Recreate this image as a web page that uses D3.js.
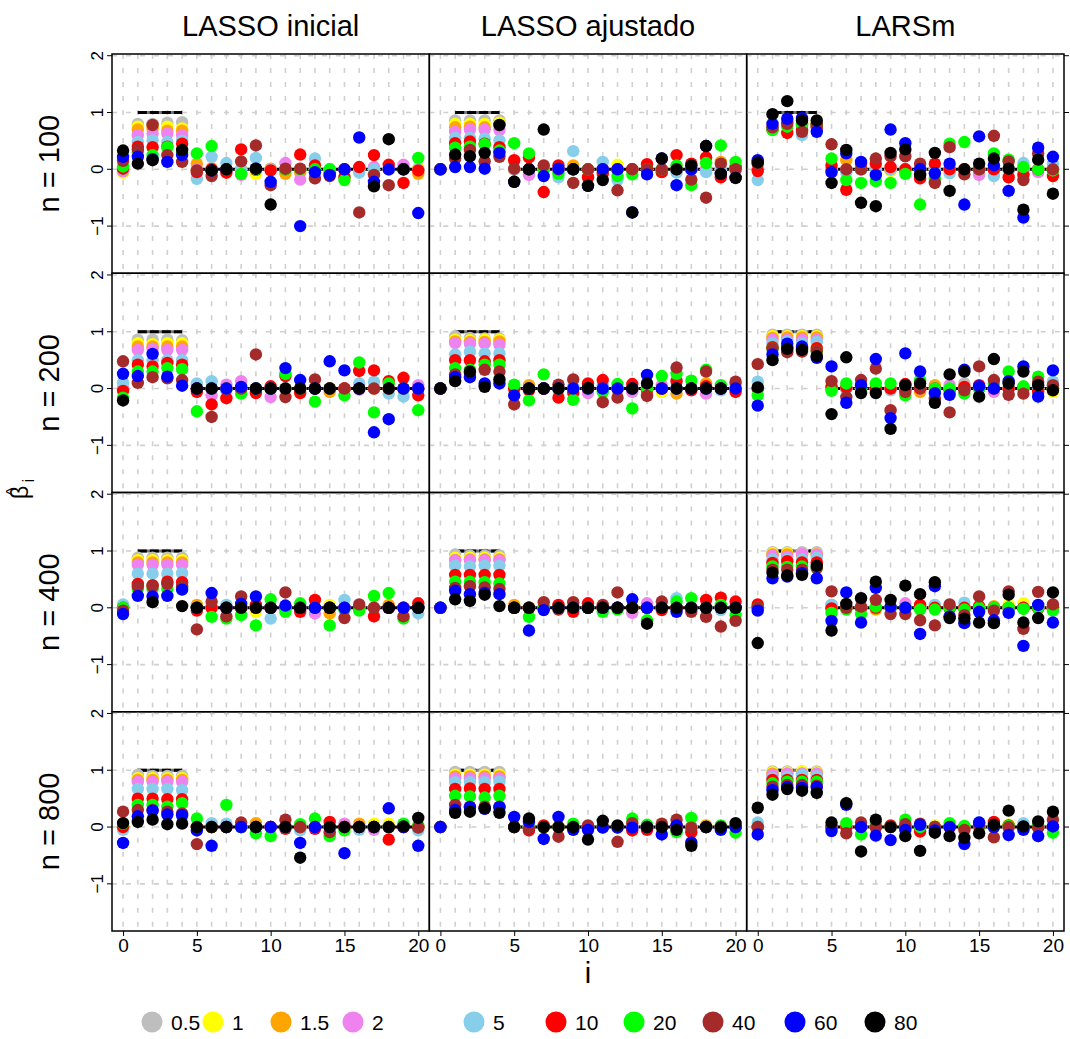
<!DOCTYPE html>
<html>
<head>
<meta charset="utf-8">
<script src="https://d3js.org/d3.v7.min.js"></script>
<style>
  body { margin: 0; background: #fff; }
  text { font-family: "Liberation Sans", Arial, sans-serif; fill: #000; }
</style>
</head>
<body>
<div id="chart"></div>
<script>
'use strict';

/* ---- data ---- */
var methods = ['LASSO inicial', 'LASSO ajustado', 'LARSm'];
var sizes = [100, 200, 400, 800];
var levels = ['0.5', '1', '1.5', '2', '5', '10', '20', '40', '60', '80'];
var levelColors = ['#bebebe', '#ffff00', '#ffa500', '#ee82ee', '#87ceeb',
                   '#ff0000', '#00ff00', '#a52a2a', '#0000ff', '#000000'];
var coefIndex = d3.range(0, 21);
var trueBeta = [null, 1, 1, 1, 1, 0, 0, 0, 0, 0, 0, 0, 0, 0, 0, 0, 0, 0, 0, 0, 0];
var xTicks = [0, 5, 10, 15, 20];
var yTicks = [-1, 0, 1, 2];

// one row per level (0.5 ... 80), one value per coefficient i = 0..20
var ini100 = [
  [-0.05,0.80,0.80,0.82,0.83,0,0,0,0,0,0,0,0,0,0,0,0,0,0,0,0],
  [-0.06,0.75,0.76,0.75,0.72,0,0,0,0,-0.08,0,0,0,0,0,0,0,0,0,0,0.03],
  [-0.03,0.70,0.71,0.68,0.68,0.10,0.02,0,0,0,0.01,-0.08,-0.05,0,0,0,0,0,0,0,-0.08],
  [-0.03,0.60,0.63,0.63,0.60,0,0,0,-0.10,0,0,0.11,-0.18,0,0,0,0.02,0.04,0,0.08,0],
  [0,0.48,0.51,0.48,0.50,-0.17,0.22,0.11,0,0.20,0,0,0,0.19,0,0,-0.06,0,0,0,0],
  [0.01,0.40,0.39,0.40,0.45,-0.05,0,-0.06,0.35,-0.01,-0.02,0,0.26,0.07,-0.06,-0.14,0.04,0.25,0.08,-0.24,-0.02],
  [0.05,0.30,0.25,0.39,0.30,0.28,0.41,0,-0.08,0,null,0,0,0,0,-0.19,null,null,null,null,0.20],
  [0.15,0.35,0.78,0.25,0.13,-0.02,-0.12,0,0.14,0.42,-0.28,0.01,0.01,-0.16,-0.12,0,-0.76,-0.10,-0.28,0,null],
  [0.22,0.22,0.18,0.13,0.25,null,-0.02,0,null,0.01,-0.22,null,-1.00,-0.05,-0.10,0,0.56,-0.22,0,0,-0.77],
  [0.33,0.10,0.16,null,0.34,null,-0.02,0,null,0.01,-0.62,null,null,null,null,null,null,-0.30,0.53,0,null]
];
var aju100 = [
  [0,0.86,0.86,0.86,0.86,0,0,0,0,0,0,0,0,0,0,0,0,0,0,0,0],
  [0,0.80,0.80,0.80,0.82,0,0,0,0,0,0,0,0.08,0,0,0,0,0,0,0,0],
  [0,0.74,0.75,0.74,0.78,0,0,0,0,0.07,0,0,0,0,0,0,0,0.05,0,0.13,0.04],
  [0,0.66,0.70,0.70,0.69,0,-0.10,0,0,0,0,0,0,0,0,0,0,0,0,0,0],
  [0,0.55,0.55,0.54,0.51,0,0,0,-0.14,0.32,0,0.13,-0.19,0,0,-0.05,-0.06,0,-0.05,0,0],
  [0,0.46,0.49,0.45,0.39,0.16,0.21,-0.40,0.07,0,-0.14,-0.08,0,0,0.09,-0.05,0.25,0.10,0.21,-0.14,0.04],
  [0,0.38,0.40,0.44,0.33,0.46,0.28,0,-0.08,0,0,0,-0.12,-0.09,0,0,0.07,-0.28,0.11,0.42,0.13],
  [0,0.19,0.34,0.14,0.22,0.01,0,0.07,0,-0.24,0,0,-0.37,0,0,0,0,-0.18,-0.50,0.10,0],
  [0,0.04,0.04,0.01,0.29,-0.22,0,-0.12,0.01,0,-0.29,0,0,-0.76,-0.09,0.19,-0.28,0,0.41,-0.08,-0.15],
  [null,0.26,0.23,0.29,0.78,-0.22,0,0.70,null,0,-0.29,-0.19,null,-0.76,null,0.19,0,0.07,0.41,-0.08,-0.15]
];
var lars100 = [
  [0,0.76,0.85,0.80,0.80,0,0,0,0,0,0,0,0,0,0,0,0,0,0,0,0],
  [0,0.75,0.85,0.80,0.80,0,0,0,0,-0.03,0,0,0,0,0,0,0,0,0,0,0],
  [0,0.75,0.84,0.78,0.80,0,0.16,0,0,0,0,0,0,0,0,0,0,0,0,0,0],
  [0,0.74,0.83,0.76,0.78,0,0,0,0,0,0,0,0,0,0,-0.10,0,0,0,-0.05,0],
  [-0.19,0.72,0.80,0.60,0.75,0,-0.05,0,0,0,0,0,0,-0.07,0,0,-0.12,0,0.11,0,0.10],
  [-0.03,0.70,0.64,0.70,0.74,0.07,-0.36,0.10,0.10,0.04,0,-0.16,0.10,0,0,0,0,-0.14,-0.10,0,-0.12],
  [0.13,0.69,0.75,0.78,0.78,0.19,-0.19,-0.24,-0.21,-0.24,-0.08,-0.62,-0.17,0.45,0.48,0,0.28,0.17,0.04,0,-0.02],
  [0.10,0.74,0.80,0.66,0.78,0.44,0,0,0.19,0.23,0.23,0.10,-0.24,0.39,-0.09,0,0.59,0.14,-0.19,0.28,0],
  [0.16,0.80,0.89,0.90,0.66,-0.05,0.28,0.13,-0.10,0.70,0.46,0,-0.07,0.10,-0.62,0.58,0.07,-0.38,-0.85,0.38,0.22],
  [0.12,0.97,1.20,0.86,0.86,-0.24,0.34,-0.59,-0.65,0.29,0.35,-0.10,0.29,-0.38,0,0.10,0.19,0.01,-0.71,0.17,-0.43]
];
var ini200 = [
  [0,0.86,0.86,0.86,0.85,0,0,0,0,0,0,0,0,0,0,0,0,0,0,0,0],
  [0,0.80,0.78,0.80,0.80,0,0,0,0,0,0,0,0,0,0,0,0,0,0,0,0],
  [0,0.74,0.74,0.74,0.74,0,0,0,0,0,0,0,0,0,-0.06,0,0,0,0,0,0],
  [0,0.68,0.70,0.68,0.68,0,-0.12,0.07,0.13,0,-0.15,0,0,0,0,0,-0.02,0,0,0,0.06],
  [0.10,0.50,0.50,0.50,0.50,0.09,0.13,-0.03,0,0,0,0,0,0,0,0,0.09,0.12,-0.09,-0.14,0],
  [-0.04,0.42,0.39,0.45,0.42,-0.06,-0.28,-0.17,0,-0.08,0.04,0.22,-0.08,0,0,0,0.31,0.32,0.13,0.19,-0.12],
  [-0.16,0.30,0.30,0.36,0.34,-0.40,0,0,-0.09,0,0,0.26,0,-0.23,0,-0.12,0.46,-0.42,0.09,0,-0.38],
  [0.48,0.10,0.20,0.18,0.15,0,-0.50,0,0,0.60,0,-0.15,0,0.16,0,0,0,0,0,0,0],
  [0.26,0.22,0.61,0.21,0.05,0,0,0,0.03,0,0,0.36,0.15,0,0.48,0.32,0,-0.77,-0.54,0,0],
  [-0.21,null,null,null,null,0,0,null,null,0,0,0,0,0,0,null,0,null,0,null,null]
];
var aju200 = [
  [0,0.92,0.89,0.88,0.88,0,0,0,0,0,0,0,0,0,0,0,0,0,0,0,0],
  [0,0.86,0.85,0.86,0.86,0,0,0,0,0,0,0,0,0,0,-0.06,0,0,0,0,0],
  [0,0.83,0.82,0.82,0.83,0,0.06,0,0,0,0,0,0,0,0,0,-0.09,0,0.09,0,0],
  [0,0.80,0.79,0.79,0.77,0,0,0,0,0,-0.08,0,0,-0.06,0,0.06,0,0,-0.09,0,0],
  [0,0.60,0.65,0.62,0.62,0,0,0,0,0.03,0,0.06,0,0,0,0,0,0,0,-0.03,0],
  [0,0.50,0.50,0.48,0.50,0,-0.03,0,-0.16,-0.08,0.09,0.15,0,0.08,-0.03,0,0.13,-0.03,0.04,0,-0.06],
  [0,0.36,0.33,0.42,0.42,0.07,-0.21,0.25,0,-0.20,0,-0.06,0.08,-0.35,0,0.22,0.26,0.14,0.33,0.06,0.08],
  [0,0.25,0.28,0.33,0.30,-0.28,0,0,0.07,0.16,0,-0.24,-0.16,0,-0.13,0,0.37,0,0.30,0,0.12],
  [0,0.20,0.20,0.09,0.09,-0.12,0,0,0,0,0,0,0,0,0.24,0,0,0,0,0,0],
  [0,0.13,0.30,0.03,0.16,null,0,0,0,null,0.01,null,null,0,0.09,null,0,0,0,0,null]
];
var lars200 = [
  [0,0.95,0.95,0.95,0.95,0,0,0,0,0,0,0,0,0,0.09,0,0,0,0,0,0],
  [0,0.92,0.92,0.92,0.92,0,0,0,0,0,0,0,0,0,0,0,0,0,0,0,-0.06],
  [0,0.89,0.90,0.90,0.90,0,0,0,0,0,0,-0.06,0.06,0,0,0,0,0,0,0,0],
  [0,0.86,0.86,0.86,0.86,0,0,0,0,0,0,0,0,0.06,0,0,-0.06,0,0,0,0],
  [0.12,0.80,0.83,0.80,0.82,0,0,0,0,-0.03,0,0,0,0,0,0,0,0,0,0,0.12],
  [0,0.73,0.74,0.72,0.71,0.03,0.02,0,0,0,0.08,0,0,-0.03,0.03,0.06,0,0,0.02,-0.06,0],
  [-0.12,0.70,0.68,0.68,0.66,-0.04,0.09,0,0.09,0.09,-0.12,0.15,0,0,-0.09,0,0.09,0.30,0.04,0.21,0],
  [0.43,0.70,0.64,0.65,0.66,0.13,-0.15,0.15,0.35,-0.38,-0.06,0.02,-0.18,-0.42,-0.03,0.39,0.15,-0.11,-0.09,0.12,0.06],
  [-0.30,0.60,0.79,0.74,0.54,0.39,-0.25,0.06,0.52,-0.52,0.62,0.30,-0.08,-0.11,0.33,0.04,0,0.13,0.39,-0.14,0.32],
  [0.02,0.50,0.70,0.68,0.57,-0.45,0.55,-0.08,-0.08,-0.71,0.06,0.09,-0.25,0.25,0.30,-0.14,0.52,0.09,0.30,0.06,-0.03]
];
var ini400 = [
  [0,0.88,0.88,0.88,0.88,0,0,0,0,0,0,0,0,0,0,0,0,0,0,0,0],
  [0,0.84,0.84,0.84,0.84,0,0,0,0,-0.07,0,0,0,0,0.05,0,0,0,0,0,0],
  [0,0.80,0.80,0.80,0.80,0.05,0,0,0,0,0,0,0,0,-0.10,0,0,0,0.05,0,0],
  [0,0.76,0.76,0.76,0.76,0,0,0,0,0,0,0,0,-0.10,0,0,0,0,0,0,0],
  [0.06,0.60,0.60,0.60,0.61,0,0,0.05,0,0,-0.19,0,0,0,0,0.14,0,0,0,0,-0.10],
  [0,0.42,0.40,0.46,0.45,-0.05,0,0,0,0.05,0,0,-0.07,0.14,0,0,0,-0.15,0,0,0.08],
  [0,0.33,0.33,0.33,0.35,0,-0.16,-0.19,-0.13,-0.31,0.15,-0.07,0.08,0,-0.31,-0.04,-0.05,0.21,0.26,-0.19,0],
  [-0.05,0.38,0.38,0.42,0.38,-0.38,0.11,-0.15,0.20,0,0,0.27,0,0,0,-0.18,0.06,0,0,-0.15,0],
  [-0.11,0.21,0.20,0.21,0.32,0,0.26,0,0.07,0.20,0,0.04,0,0,0,0,null,null,0,0,0],
  [null,null,0.10,null,0.03,0,null,0,0,0,0,null,0,null,0,null,null,null,0,null,0]
];
var aju400 = [
  [0,0.94,0.92,0.92,0.92,0,0,0,0,0,0,0,0,0,0,0,0,0,0,0,0],
  [0,0.88,0.88,0.88,0.88,0,0,0,0,0,0,0,0,0,0,0,0,0,0,0,0],
  [0,0.84,0.85,0.85,0.85,0.05,0,0,0,0,0,0,0,0,0,0,0,0,0,0,0],
  [0,0.84,0.84,0.84,0.84,0,0,0,0,0,0,0,0,-0.09,0.08,0,0,0,0,0,0],
  [0,0.74,0.73,0.74,0.74,0,0,0,0,0,0,0,0,0,0,0,0.17,0,0,-0.04,0],
  [0,0.58,0.58,0.58,0.58,0,0,0,0.05,-0.07,0.08,0,0,0,0,-0.04,0,0,0.14,0.18,0.11],
  [0,0.46,0.46,0.45,0.43,0,-0.16,0,0,0,0,-0.07,-0.03,0,-0.22,0,0.11,0.17,0,0.05,-0.13],
  [0,0.35,0.38,0.36,0.33,0,0,0.10,-0.03,0.10,0,0.05,0.27,0,0,0.11,0,-0.07,-0.16,-0.33,-0.23],
  [0,0.30,0.24,0.26,0.24,0,-0.40,-0.04,0,0,0,0,0,0.15,0,0,-0.07,0,0,0,0],
  [null,0.15,0.12,0.23,0.03,0,0,null,0,0,0,0,0,0,-0.28,0,0,0,0,0,0]
];
var lars400 = [
  [0,0.98,0.98,0.98,0.98,0,0,0,0,0,0,0,0,0,0,0,0,0,0,0,0],
  [0,0.96,0.96,0.95,0.95,0,0,0,0,0,0,0,0,0,0,0,0,0.05,0.08,0,0],
  [0,0.94,0.94,0.94,0.94,0.05,0,0,-0.03,0,0,0,0,0,0,0,0.03,0,0,0,0],
  [0,0.92,0.90,0.95,0.94,0,0,0,0,0,0.08,0,0,0,0,0,0,0,0,0,0],
  [0,0.85,0.85,0.85,0.88,0.05,0,0,0,0,0,0,0.05,0,0.09,0,0,0,0,0,0],
  [0.06,0.79,0.82,0.80,0.80,-0.01,0,0,0,0,0,0.05,0,-0.01,0,0.03,0,0,0,-0.01,0],
  [0,0.73,0.72,0.73,0.70,-0.09,-0.03,-0.11,0.02,0,0,-0.03,-0.03,0,-0.03,0,0,0,-0.02,0,-0.05],
  [0,0.67,0.67,0.67,0.70,0.29,0,0.02,0.14,-0.11,-0.11,-0.22,-0.31,0.06,-0.13,0.20,-0.05,0.29,-0.37,0.28,0.06],
  [-0.05,0.52,0.55,0.61,0.52,-0.23,0.27,-0.26,0.35,0.02,0,-0.46,0.38,-0.15,-0.27,-0.07,-0.22,-0.09,-0.67,0.05,-0.26],
  [-0.62,0.62,0.57,0.58,0.74,-0.40,0.07,0.17,0.46,0.14,0.39,0.24,0.45,-0.18,-0.19,-0.26,-0.27,0.23,-0.26,-0.18,0.27]
];
var ini800 = [
  [0,0.92,0.90,0.90,0.90,0,0,0,0,0,0,0,0,0,0,0,0,0,0,0,0],
  [0,0.86,0.86,0.86,0.86,0,0,0,0,0,0,0,0,0,0,0,0.03,0.06,0.06,0,0],
  [0,0.83,0.83,0.83,0.83,0,0,0,0,0.07,0,0,0,0,0,0,0.06,0,0,0,0],
  [0,0.80,0.80,0.80,0.80,0,0,0,0,0,0,0,0,0,0,0.06,0,-0.05,0,0.04,0],
  [-0.05,0.67,0.67,0.67,0.65,0,0.07,0.06,0,0,0,0,-0.06,0,0,0,-0.05,0,0,0,-0.06],
  [0,0.50,0.50,0.49,0.49,0,0,0,0,0,0,-0.03,0,-0.03,0.09,0,0,0,-0.22,0,0],
  [0.06,0.39,0.39,0.36,0.42,0.15,0,0.39,0,-0.11,-0.16,0,0.05,0.15,-0.16,-0.06,0,0,0,0.06,0.03],
  [0.27,0.30,0.30,0.27,0.24,-0.30,0,0,0.08,0,0,0.13,0,0,-0.09,0,0,0,0,0,-0.01],
  [-0.28,0.19,0.29,0.22,0.21,-0.06,-0.33,0,0,0,0,0,-0.28,0,0,-0.46,0,0,0.33,0,-0.33],
  [0.07,0.09,0.13,0.05,0.06,0,0,0,null,0,null,0,-0.54,null,0,0,0,0,0,0.01,0.16]
];
var aju800 = [
  [0,0.97,0.97,0.97,0.97,0,0,0,0,0,0,0,0,0,0,0,0,0,0,0,0],
  [0,0.92,0.92,0.92,0.92,0,0,0,0,0,0,0,0,0,0,0,0,0,0.03,0,0],
  [0,0.89,0.89,0.89,0.89,0,0,0,0,0,0,0,0,0,0,0,0,0,0.03,0,0],
  [0,0.86,0.86,0.86,0.86,0,0,0,0,0,0,0,0,0,0,0,0,0,0,0,0],
  [0,0.79,0.79,0.79,0.80,0,0,0,0,0,0,0,0,0,0,0,0,0,0,0,0],
  [0,0.67,0.68,0.67,0.67,0,-0.06,0.03,0,0,0,0,0,-0.06,-0.05,0,0.03,-0.09,0,0,0],
  [0,0.55,0.54,0.52,0.55,0,0,0,0,0.06,0,0,0,0.15,0.04,0,-0.09,0.16,0,0.03,-0.10],
  [0,0.39,0.36,0.36,0.36,0,-0.03,0,-0.17,0,0.03,0,-0.26,0.07,0,0.06,0.13,-0.01,0,0,0],
  [0,0.30,0.35,0.32,0.35,0.18,0.09,-0.21,0.18,-0.05,-0.05,-0.01,-0.01,-0.01,0,-0.13,0.03,-0.27,0,-0.05,0],
  [null,0.25,0.27,0.33,0.25,0,0.15,0,0,0,-0.22,0.11,0.03,null,0,0,-0.05,-0.33,0,0,0.07]
];
var lars800 = [
  [0,0.98,0.98,0.98,0.98,0,0,0,0,0,0,0,0,0,0,0,0,0,0,0,0],
  [0,0.96,0.96,0.98,0.96,0,0,0,0,0,0,0,0.03,0,0,0,0,0.04,0,0,0],
  [0,0.94,0.94,0.94,0.94,0,0,0,0,0,0,0,0,0,0,0,0,0,0,0,0],
  [0,0.92,0.94,0.94,0.94,0,0,0,0,0,0,0,0,0,0,0,0,0,0,0,0],
  [0.08,0.86,0.88,0.92,0.89,0,0,0,0,0,0,0,0,0,0,0.08,0,0,0.07,0,0],
  [0,0.83,0.83,0.83,0.83,0,0,0,0,0.03,0,-0.08,0,0,0,0.07,0.09,0.03,0,0,0],
  [0,0.77,0.80,0.80,0.80,0,0.07,-0.13,0.07,0,0.13,0,0,0.07,0.02,0,0,0.02,0,0.03,-0.10],
  [0,0.71,0.74,0.74,0.73,0,-0.11,0.08,0,0,0.05,0.06,0,0,-0.05,0.03,-0.18,0,0,-0.01,0.13],
  [-0.13,0.65,0.70,0.69,0.70,-0.07,0.39,0,-0.15,-0.23,-0.05,0.04,-0.06,0,-0.30,0.08,0,-0.14,-0.05,-0.16,0.01],
  [0.34,0.57,0.67,0.64,0.60,0.08,0.42,-0.43,0.13,0,-0.16,-0.42,-0.10,-0.16,-0.19,-0.11,0.04,0.29,0.01,0.10,0.27]
];

// rows = sample size, columns = method
var panels = [
  [ini100, aju100, lars100],
  [ini200, aju200, lars200],
  [ini400, aju400, lars400],
  [ini800, aju800, lars800]
];

/* ---- layout ---- */
var width = 1070, height = 1039;
var plotLeft = 112, plotTop = 54;
var panelW = (1064 - plotLeft) / 3;
var panelH = (931 - plotTop) / 4;
var pointR = 6.2;

var svg = d3.select('#chart')
  .append('svg')
  .attr('width', width)
  .attr('height', height);

var x = d3.scaleLinear().domain([-0.75, 20.75]).range([0, panelW]);
var y = d3.scaleLinear().domain([-1.83, 2.03]).range([panelH, 0]);

// segments of the true coefficients (1 for i=1..4, 0 for i=5..20)
var truePts = coefIndex.filter(function(i) { return trueBeta[i] !== null; })
  .map(function(i) { return {i: i, b: trueBeta[i]}; });
var trueGroups = d3.groups(truePts, function(d) { return d.b; });
var trueLine = d3.line()
  .x(function(d) { return x(d.i); })
  .y(function(d) { return y(d.b); });

sizes.forEach(function(n, r) {
  methods.forEach(function(m, c) {
    var g = svg.append('g')
      .attr('transform', 'translate(' + (plotLeft + c * panelW) + ',' + (plotTop + r * panelH) + ')');

    // dashed grid
    g.selectAll('.vgrid')
      .data(coefIndex)
      .enter()
      .append('line')
      .attr('x1', function(d) { return x(d); })
      .attr('x2', function(d) { return x(d); })
      .attr('y1', 0)
      .attr('y2', panelH)
      .attr('stroke', '#d0d0d0')
      .attr('stroke-width', 1.6)
      .attr('stroke-dasharray', '5,9');
    g.selectAll('.hgrid')
      .data(yTicks)
      .enter()
      .append('line')
      .attr('x1', 0)
      .attr('x2', panelW)
      .attr('y1', function(d) { return y(d); })
      .attr('y2', function(d) { return y(d); })
      .attr('stroke', '#d0d0d0')
      .attr('stroke-width', 1.6)
      .attr('stroke-dasharray', '5,9');

    // true values
    trueGroups.forEach(function(grp) {
      if (grp[0] === 1) {
        g.append('path').attr('d', trueLine(grp[1]))
          .attr('fill', 'none').attr('stroke', '#777').attr('stroke-width', 3);
        g.append('path').attr('d', trueLine(grp[1]))
          .attr('fill', 'none').attr('stroke', '#000').attr('stroke-width', 3)
          .attr('stroke-dasharray', '9,3');
      } else {
        g.append('path').attr('d', trueLine(grp[1]))
          .attr('fill', 'none').attr('stroke', '#000').attr('stroke-width', 3);
      }
    });

    // points, level by level so 80 ends up on top
    var est = panels[r][c];
    levels.forEach(function(lv, k) {
      var pts = coefIndex.filter(function(i) { return est[k][i] !== null; });
      g.selectAll('.p' + k)
        .data(pts)
        .enter()
        .append('circle')
        .attr('cx', function(i) { return x(i); })
        .attr('cy', function(i) { return y(est[k][i]); })
        .attr('r', pointR)
        .attr('fill', levelColors[k]);
    });

    // frame
    g.append('rect')
      .attr('width', panelW)
      .attr('height', panelH)
      .attr('fill', 'none')
      .attr('stroke', '#000')
      .attr('stroke-width', 1.5);

    // y axis on the left column
    if (c === 0) {
      g.selectAll('.ytick')
        .data(yTicks)
        .enter()
        .append('line')
        .attr('x1', -5).attr('x2', 0)
        .attr('y1', function(d) { return y(d); })
        .attr('y2', function(d) { return y(d); })
        .attr('stroke', '#000');
      g.selectAll('.ylab')
        .data(yTicks)
        .enter()
        .append('text')
        .attr('transform', function(d) { return 'translate(-9,' + y(d) + ') rotate(-90)'; })
        .attr('text-anchor', 'middle')
        .style('font-size', '17px')
        .text(function(d) { return d < 0 ? '\u2212' + Math.abs(d) : d; });
      g.append('text')
        .attr('transform', 'translate(' + (-53) + ',' + (panelH / 2) + ') rotate(-90)')
        .attr('text-anchor', 'middle')
        .style('font-size', '29px')
        .text('n = ' + n);
    }
    if (c === 2) {
      g.selectAll('.ytickr')
        .data(yTicks)
        .enter()
        .append('line')
        .attr('x1', panelW).attr('x2', panelW + 5)
        .attr('y1', function(d) { return y(d); })
        .attr('y2', function(d) { return y(d); })
        .attr('stroke', '#000');
    }

    // strip title on top row
    if (r === 0) {
      g.append('text')
        .attr('x', panelW / 2)
        .attr('y', -18)
        .attr('text-anchor', 'middle')
        .style('font-size', '29px')
        .text(m);
    }

    // x axis on the bottom row
    if (r === sizes.length - 1) {
      g.append('g')
        .attr('transform', 'translate(0,' + panelH + ')')
        .call(d3.axisBottom(x).tickValues(xTicks).tickSize(5).tickPadding(3))
        .call(function(a) {
          a.select('.domain').remove();
          a.selectAll('text').style('font-size', '19px')
            .style('font-family', '"Liberation Sans", Arial, sans-serif');
        });
    }
  });
});

// axis titles
svg.append('text')
  .attr('x', plotLeft + 1.5 * panelW)
  .attr('y', 983)
  .attr('text-anchor', 'middle')
  .style('font-size', '29px')
  .text('i');

var yTitle = svg.append('g')
  .attr('transform', 'translate(28,' + (plotTop + 2 * panelH) + ') rotate(-90)');
yTitle.append('text')
  .attr('text-anchor', 'middle')
  .style('font-size', '23px')
  .text('\u03b2');
yTitle.append('text')
  .attr('x', 1)
  .attr('y', -10)
  .attr('text-anchor', 'middle')
  .style('font-size', '16px')
  .text('^');
yTitle.append('text')
  .attr('x', 12)
  .attr('y', 6)
  .attr('text-anchor', 'middle')
  .style('font-size', '17px')
  .text('i');

/* ---- legend ---- */
var legendX = [152, 213, 281, 353, 474, 556, 634, 713, 795, 875];
var legend = svg.selectAll('.legend')
  .data(levels)
  .enter()
  .append('g')
  .attr('class', 'legend')
  .attr('transform', function(d, i) { return 'translate(' + legendX[i] + ',1022)'; });
legend.append('circle')
  .attr('r', 10.5)
  .attr('fill', function(d, i) { return levelColors[i]; });
legend.append('text')
  .attr('x', 19)
  .attr('y', 8)
  .style('font-size', '21px')
  .text(function(d) { return d; });
</script>
</body>
</html>
